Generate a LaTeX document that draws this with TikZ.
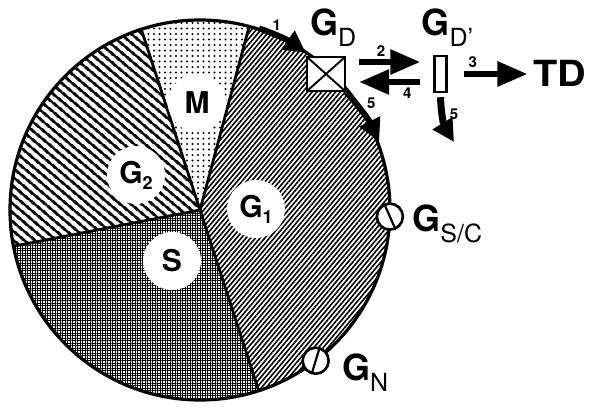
\documentclass[tikz,border=0pt]{standalone}
\usepackage{fontspec}
\setmainfont{TeX Gyre Heros}
\usetikzlibrary{arrows.meta, positioning, calc, patterns.meta}
\newcommand{\cyclab}[2]{\textbf{#1}\raisebox{-11pt}{\fontsize{25}{25}\selectfont #2}}
\newcommand{\inlab}[2]{#1\raisebox{-6pt}{\fontsize{18}{18}\selectfont #2}}
\tikzset{
  gonefill/.style={pattern={Lines[angle=50, distance=3.6pt, line width=1.6pt]}},
  gtwofill/.style={pattern={Lines[angle=-40, distance=6.5pt, line width=2.8pt]}},
  sfill/.style={pattern={Hatch[angle=0, distance=2.5pt, line width=0.9pt]}},
  mfill/.style={pattern={Dots[distance=5.5pt, radius=1.1pt]}},
  blob/.style={circle, fill=white, minimum size=58pt, inner sep=0pt,
    font=\bfseries\fontsize{30}{30}\selectfont},
  gbox/.style={rectangle, draw, fill=white, line width=2.4pt, inner sep=0pt},
  crossed/.style={path picture={
    \draw[line width=1.9pt] (path picture bounding box.north west) -- (path picture bounding box.south east)
      (path picture bounding box.north east) -- (path picture bounding box.south west);}},
  checkpt/.style={circle, draw, fill=white, line width=2.6pt, minimum size=26pt, inner sep=0pt,
    path picture={\draw[line width=2.2pt] (path picture bounding box.center) +(#1:15) -- +(#1+180:15);}},
  clab/.style={font=\fontsize{36}{36}\selectfont, inner sep=0pt, anchor=base west},
  num/.style={font=\bfseries\fontsize{15}{15}\selectfont, inner sep=1pt},
  bigarrow/.style={-{Triangle[length=30pt, width=24pt]}, line width=6pt},
  arcarrow/.style={-{Triangle[length=22pt, width=22pt]}, line width=6pt}
}

\begin{document}
\begin{tikzpicture}[x=1pt, y=1pt]
  \useasboundingbox (0,0) rectangle (589,408);
  \coordinate (O) at (200,198);

  % cycle phases
  \begin{scope}[shift={(O)}]
    \fill[gonefill] (0,0) -- (75:190) arc[start angle=75, end angle=-72, radius=190] -- cycle;
    \fill[sfill] (0,0) -- (-72:190) arc[start angle=-72, end angle=-169, radius=190] -- cycle;
    \fill[gtwofill] (0,0) -- (191:190) arc[start angle=191, end angle=108, radius=190] -- cycle;
    \fill[mfill] (0,0) -- (108:190) arc[start angle=108, end angle=75, radius=190] -- cycle;
    \foreach \a in {75,108,191,-72}
      \draw[line width=2.8pt] (0,0) -- (\a:190);
    \draw[line width=3.2pt] (0,0) circle[radius=190];
  \end{scope}

  \node[blob] (mlab) at (197,305) {M};
  \node[blob] (gtwolab) at (136,233) {\inlab{G}{2}};
  \node[blob] (gonelab) at (256,199) {\inlab{G}{1}};
  \node[blob] (slab) at (172,147) {S};

  % exit states
  \node[gbox, crossed, minimum width=38pt, minimum height=34pt] (gd) at (326,334) {};
  \node[gbox, minimum width=12pt, minimum height=36pt] (gdp) at (440.5,334) {};
  \node[font=\bfseries\fontsize{36}{36}\selectfont, inner sep=2pt] (td) at (560,335) {\scalebox{1.1}[1]{TD}};
  \node[clab] (gdlab) at ($(gd.north west)+(4,20)$) {\cyclab{G}{D}};
  \node[clab] (gdplab) at ($(gdp.north west)+(-12,19)$) {\cyclab{G}{D'}};

  \node[checkpt=114] (gsc) at ($(O)+(-2:190)$) {};
  \node[checkpt=73] (gn) at ($(O)+(-52.5:190)$) {};
  \node[clab] (gsclab) at ($(gsc.east)+(8,-15)$) {\cyclab{G}{S/C}};
  \node[clab] (gnlab) at ($(gn.east)+(12,-20)$) {\cyclab{G}{N}};

  % transitions
  \coordinate (onestart) at ($(O)+(72:191)$);
  \coordinate (fivetip) at ($(O)+(21:192)$);
  \coordinate (fivetipp) at (454,266);
  \draw[arcarrow] (onestart) to[bend left=8] node[num, above=1pt, pos=0.35] {1} ([yshift=3pt]gd.north west);
  \draw[arcarrow] (gd.south east) to[bend left=8] node[num, above right, pos=0.45] {5} (fivetip);
  \draw[bigarrow, shorten <=13pt, shorten >=13pt] ([yshift=12pt]gd.east) -- node[num, above=2pt, pos=0.4] {2} ([yshift=12pt]gdp.west);
  \draw[bigarrow, shorten <=13pt, shorten >=13pt] ([yshift=-8pt]gdp.west) -- node[num, below=2pt, pos=0.3] {4} ([yshift=-8pt]gd.east);
  \draw[bigarrow, shorten <=16pt, shorten >=4pt] (gdp.east) -- node[num, above=2pt, pos=0.3] {3} (gdp.east -| td.west);
  \draw[arcarrow, line width=7pt] ([yshift=-4pt]gdp.south) to[bend right=15] node[num, right=3pt, pos=0.35] {5} (fivetipp);
\end{tikzpicture}
\end{document}
